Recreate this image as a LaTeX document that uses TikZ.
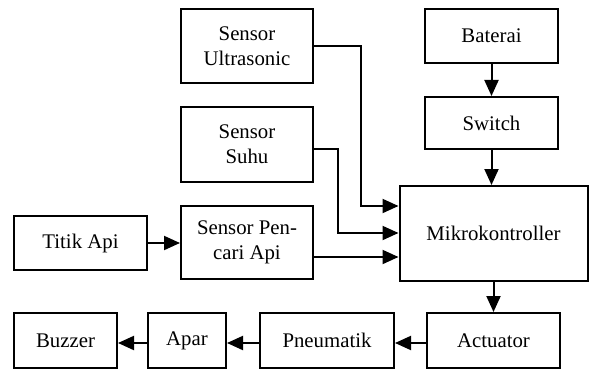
\documentclass[tikz,border=0pt]{standalone}
\usepackage{fontspec}
\setmainfont{Liberation Serif}
\usetikzlibrary{arrows.meta}
\begin{document}
\begin{tikzpicture}[x=1pt,y=-1pt,
  box/.style={draw, line width=2pt, align=center, inner sep=0pt, font=\fontsize{20.8}{25}\selectfont},
  arr/.style={line width=2pt, -{Triangle[length=16pt,width=14pt]}}]
\useasboundingbox (0,0) rectangle (589,369);
\node[box, minimum width=132pt, minimum height=74pt] (su) at (247,46) {Sensor\\Ultrasonic};
\node[box, minimum width=132pt, minimum height=75pt] (ss) at (247,144.5) {Sensor\\Suhu};
\node[box, minimum width=132pt, minimum height=73pt] (sp) at (247,242.5) {Sensor Pen-\\cari Api};
\node[box, minimum width=133pt, minimum height=54pt] (ta) at (80.5,243) {Titik Api};
\node[box, minimum width=133pt, minimum height=54pt] (ba) at (491.5,36) {Baterai};
\node[box, minimum width=133pt, minimum height=52pt] (sw) at (491.5,123) {Switch};
\node[box, minimum width=188pt, minimum height=95pt] (mk) at (493.5,233.5) {Mikrokontroller};
\node[box, minimum width=133pt, minimum height=55pt] (ac) at (493.5,340.5) {Actuator};
\node[box, minimum width=134pt, minimum height=55pt] (pn) at (327,340.5) {Pneumatik};
\node[box, minimum width=78pt, minimum height=55pt] (ap) at (187,340.5) {Apar};
\node[box, minimum width=103pt, minimum height=55pt] (bz) at (65.5,340.5) {Buzzer};
\coordinate (k1) at (361,206);
\coordinate (k2) at (338,233);
\draw[arr] (su.east) -| (k1) -- (k1 -| mk.west);
\draw[arr] ([yshift=-4.5pt]ss.east) -| (k2) -- (k2 -| mk.west);
\draw[arr] ([yshift=-14.5pt]sp.east) -- ([yshift=-14.5pt]sp.east -| mk.west);
\draw[arr] (ta.east) -- (ta.east -| sp.west);
\draw[arr] (ba.south) -- (sw.north);
\draw[arr] (sw.south) -- (sw.south |- mk.north);
\draw[arr] (mk.south) -- (ac.north);
\draw[arr] ([yshift=-2.5pt]ac.west) -- ([yshift=-2.5pt]pn.east);
\draw[arr] ([yshift=-2.5pt]pn.west) -- ([yshift=-2.5pt]ap.east);
\draw[arr] ([yshift=-2.5pt]ap.west) -- ([yshift=-2.5pt]bz.east);
\end{tikzpicture}
\end{document}
